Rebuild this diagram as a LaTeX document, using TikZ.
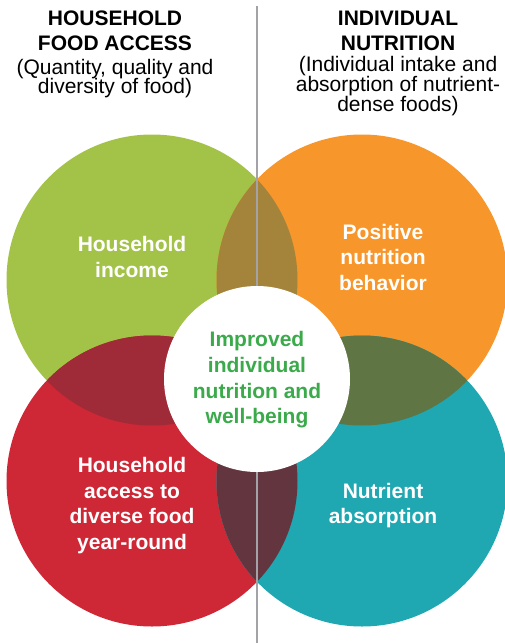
\documentclass[tikz,border=0pt]{standalone}
\usepackage{fontspec}
\setmainfont{Liberation Sans}
\usepackage{xcolor}

\definecolor{incomegreen}{HTML}{A3C348}
\definecolor{behaviororange}{HTML}{F7962B}
\definecolor{accessred}{HTML}{CE2735}
\definecolor{absorptionteal}{HTML}{1FA7B2}
\definecolor{lensbrown}{HTML}{A3843A}
\definecolor{lensmaroon}{HTML}{9E2B37}
\definecolor{lensolive}{HTML}{5F7543}
\definecolor{lensplum}{HTML}{62353F}
\definecolor{centregreen}{HTML}{3BAA4B}
\definecolor{dividergray}{HTML}{A3A3A7}

\tikzset{
    blob/.style={circle, minimum size=291pt, inner sep=0pt},
    blobtext/.style={align=center, text=white, inner sep=0pt,
        font=\bfseries\fontsize{21}{25.7}\selectfont},
    headtitle/.style={align=center, inner sep=0pt,
        font=\bfseries\fontsize{21}{25}\selectfont},
    headsub/.style={align=center, inner sep=0pt,
        font=\fontsize{21}{19.7}\selectfont,
        execute at begin node={\setlength{\lineskiplimit}{-30pt}}}
}

\begin{document}
\begin{tikzpicture}[x=1pt,y=-1pt]
            \useasboundingbox (0,0) rectangle (504,643);

            % the four circles
            \node[blob, fill=incomegreen]    (income)     at (152,280) {};
            \node[blob, fill=behaviororange] (behavior)   at (362,280) {};
            \node[blob, fill=accessred]      (access)     at (152,481) {};
            \node[blob, fill=absorptionteal] (absorption) at (362,481) {};

            % overlaps
            \begin{scope}
                \clip (income.center) circle[radius=145.5pt];
                \fill[lensbrown]  (behavior.center) circle[radius=145.5pt];
                \fill[lensmaroon] (access.center)   circle[radius=145.5pt];
            \end{scope}
            \begin{scope}
                \clip (absorption.center) circle[radius=145.5pt];
                \fill[lensolive] (behavior.center) circle[radius=145.5pt];
                \fill[lensplum]  (access.center)   circle[radius=145.5pt];
            \end{scope}

            % divider
            \coordinate (divtop) at (257,6);
            \coordinate (divbot) at (257,643);
            \draw[dividergray, line width=2pt] (divtop) -- (divbot);

            % centre
            \node[circle, fill=white, minimum size=186pt, inner sep=0pt] (wellbeing) at (257,379) {};
            \node[blobtext, text=centregreen] (wellbeingtext) at (257,380)
                {Improved\\individual\\nutrition and\\well-being};

            % labels
            \node[blobtext] (incometext)     at (132,257.3) {Household\\income};
            \node[blobtext] (behaviortext)   at (383,257.3) {Positive\\nutrition\\behavior};
            \node[blobtext] (accesstext)     at (132,505.5) {Household\\access to\\diverse food\\year-round};
            \node[blobtext] (absorptiontext) at (383,505.5) {Nutrient\\absorption};

            % headings
            \node[headtitle] (foodaccess) at (115,31) {HOUSEHOLD\\FOOD ACCESS};
            \node[headsub]   (foodaccesssub) at (115,78.5) {(Quantity, quality and\\diversity of food)};
            \node[headtitle] (nutrition) at (398,31) {INDIVIDUAL\\NUTRITION};
            \node[headsub]   (nutritionsub) at (398,86) {(Individual intake and\\absorption of nutrient-\\dense foods)};
        \end{tikzpicture}
\end{document}
